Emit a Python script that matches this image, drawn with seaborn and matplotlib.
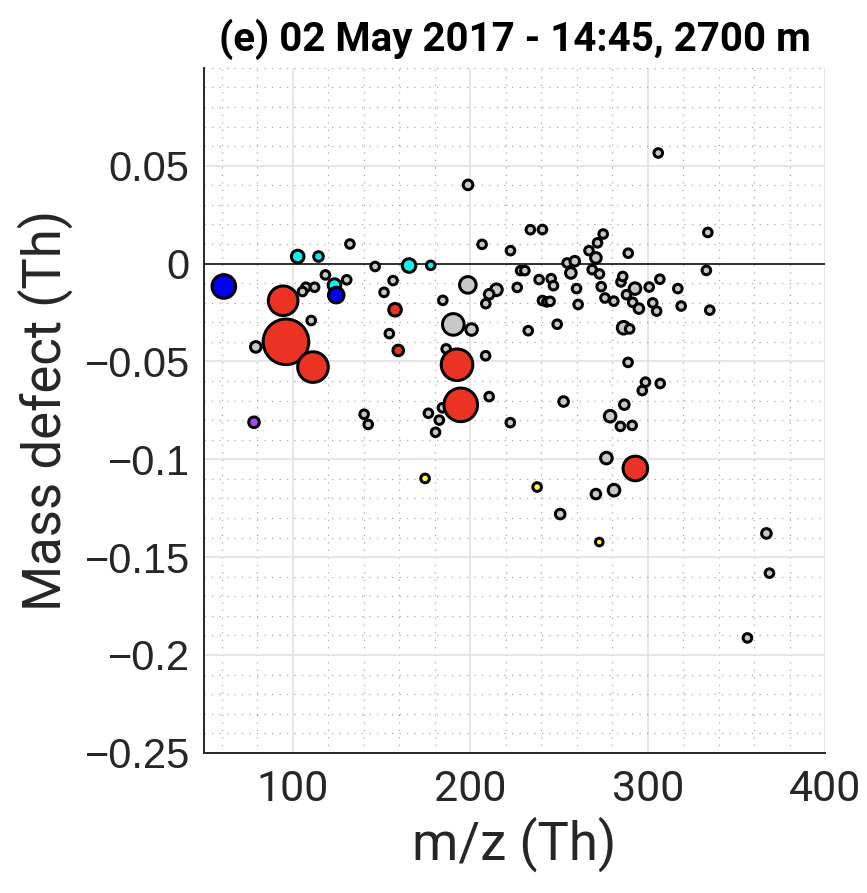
import numpy as np
import pandas as pd
import matplotlib
matplotlib.use("Agg")
import matplotlib.pyplot as plt
from matplotlib.ticker import MultipleLocator, FuncFormatter
import seaborn as sns

sns.set_style("white")
plt.rcParams["font.family"] = ["Roboto", "DejaVu Sans"]

# m/z (Th), mass defect (Th), apparent marker radius (px) and compound class
grey_mz = [198.8, 206.7, 222.7, 132.3, 118.5, 107.5, 112.4, 105.6, 130.5, 146.5,
           156.6, 151.5, 184.6, 198.7, 214.8, 210.7, 208.8, 226.5, 228.4, 230.8,
           305.9, 233.9, 240.7, 333.8, 274.9, 271.7, 266.9, 289.0, 270.8, 254.6,
           258.9, 256.7, 268.7, 272.8, 333.0, 238.8, 245.6, 246.9, 259.9, 273.8,
           284.9, 285.9, 292.8, 300.8, 306.8, 316.9, 288.0, 275.9, 280.9, 291.5,
           295.0, 302.8, 305.0, 318.8, 334.9, 240.7, 243.2, 245.0, 260.8, 110.5,
           79.3, 154.5, 190.5, 200.8, 186.5, 208.7, 210.7, 184.4, 176.5, 182.6,
           180.5, 140.3, 142.6, 222.6, 232.7, 249.0, 286.4, 289.8, 288.9, 298.7,
           307.0, 296.9, 252.6, 286.8, 278.8, 284.6, 291.2, 276.7, 270.8, 281.0,
           250.7, 366.8, 368.5, 356.1]
grey_md = [0.0402, 0.0098, 0.0066, 0.0100, -0.0058, -0.0121, -0.0121, -0.0143, -0.0083, -0.0015,
           -0.0087, -0.0147, -0.0188, -0.0109, -0.0134, -0.0157, -0.0205, -0.0122, -0.0036, -0.0036,
           0.0565, 0.0173, 0.0174, 0.0159, 0.0151, 0.0106, 0.0066, 0.0053, 0.0029, 0.0003,
           0.0012, -0.0048, -0.0031, -0.0053, -0.0035, -0.0082, -0.0077, -0.0113, -0.0128, -0.0118,
           -0.0094, -0.0066, -0.0128, -0.0120, -0.0080, -0.0128, -0.0159, -0.0176, -0.0192, -0.0198,
           -0.0230, -0.0201, -0.0243, -0.0217, -0.0238, -0.0189, -0.0196, -0.0193, -0.0209, -0.0291,
           -0.0426, -0.0358, -0.0311, -0.0337, -0.0436, -0.0471, -0.0680, -0.0737, -0.0765, -0.0800,
           -0.0862, -0.0770, -0.0822, -0.0813, -0.0343, -0.0310, -0.0328, -0.0334, -0.0505, -0.0606,
           -0.0613, -0.0649, -0.0705, -0.0721, -0.0780, -0.0832, -0.0827, -0.0994, -0.1178, -0.1158,
           -0.1280, -0.1379, -0.1582, -0.1913]
grey_r = [5.5, 5, 5, 5, 5, 5, 5, 5, 5, 5,
          5, 5, 5, 9, 6.5, 5.5, 5, 5, 5, 5,
          5, 5, 5, 5, 5, 5, 5, 5, 6, 5,
          5.5, 6, 5, 5, 5, 5, 5, 5, 5, 5,
          5, 5, 6.5, 5, 5, 5, 5, 5, 5, 5,
          5.5, 5, 5, 5, 5, 5, 5, 5, 5, 5,
          6, 5, 11.5, 6.5, 5, 5, 5, 5, 5, 5,
          5, 5, 5, 5, 5, 5, 7, 5, 5, 5,
          5, 5, 5.5, 5.5, 6.5, 5, 5, 6.5, 5.5, 6.5,
          5.5, 5.5, 5, 5]

yellow_mz = [174.6, 237.7, 272.7]
yellow_md = [-0.1098, -0.1142, -0.1423]
yellow_r = [5, 5, 4.5]

purple_mz = [78.3]
purple_md = [-0.0811]
purple_r = [6]

cyan_mz = [102.9, 114.6, 123.6, 165.6, 177.8]
cyan_md = [0.0036, 0.0036, -0.0110, -0.0010, -0.0009]
cyan_r = [7, 5.5, 7, 7.5, 5]

blue_mz = [61.3, 124.6]
blue_md = [-0.0117, -0.0161]
blue_r = [12.5, 8.5]

red_mz = [96.3, 194.7, 192.6, 111.5, 94.7, 293.0, 157.7, 159.5]
red_md = [-0.0400, -0.0722, -0.0517, -0.0529, -0.0190, -0.1047, -0.0236, -0.0444]
red_r = [23.5, 17.5, 16.5, 16, 15.5, 13, 7, 6]

colors = {"grey": "#c8c8c8", "yellow": "#ffff33", "purple": "#a64af0",
          "cyan": "#11f0f0", "blue": "#0000f5", "red": "#ea3323"}

frames = []
for name, mz, md, r in [("grey", grey_mz, grey_md, grey_r),
                        ("yellow", yellow_mz, yellow_md, yellow_r),
                        ("purple", purple_mz, purple_md, purple_r),
                        ("cyan", cyan_mz, cyan_md, cyan_r),
                        ("blue", blue_mz, blue_md, blue_r),
                        ("red", red_mz, red_md, red_r)]:
    frames.append(pd.DataFrame({"mz": mz, "md": md, "r": r, "group": name}))
df = pd.concat(frames, ignore_index=True)

# marker area from apparent radius (edge line drawn half outside the fill)
edge_px = 3.0
df["area"] = (df["r"] + 0.8 - edge_px / 2) ** 2
amax = df["area"].max()
smax = amax * (2 * 0.72) ** 2

fig = plt.figure(figsize=(8.67, 8.93), dpi=100)
ax = fig.add_axes([0.235, 0.157, 0.717, 0.767])

ax.xaxis.set_major_locator(MultipleLocator(100))
ax.xaxis.set_minor_locator(MultipleLocator(20))
ax.yaxis.set_major_locator(MultipleLocator(0.05))
ax.yaxis.set_minor_locator(MultipleLocator(0.01))
ax.grid(which="major", color="#e2e2e2", linewidth=1.2, linestyle="-")
ax.grid(which="minor", color="#a8a8a8", linewidth=0.9, linestyle=(0, (1, 5)))
ax.set_axisbelow(True)
ax.axhline(0, color="#222222", linewidth=1.3, zorder=1)

sns.scatterplot(data=df, x="mz", y="md", hue="group", palette=colors,
                size="area", sizes=(0, smax), size_norm=(0, amax),
                edgecolor="black", linewidth=edge_px * 0.72, alpha=1,
                legend=False, ax=ax, zorder=3)

ax.set_xlim(50, 400)
ax.set_ylim(-0.25, 0.1)

for s in ["top", "right"]:
    ax.spines[s].set_visible(False)
for s in ["left", "bottom"]:
    ax.spines[s].set_color("#262626")
    ax.spines[s].set_linewidth(1.4)

ax.tick_params(which="major", direction="in", length=8, width=1.2, colors="#262626")
ax.tick_params(which="minor", direction="in", length=4, width=0.8, colors="#262626")
ax.tick_params(axis="x", which="major", labelsize=31, pad=12)
ax.tick_params(axis="y", which="major", labelsize=30, pad=10)

ax.set_yticks([0.05, 0, -0.05, -0.1, -0.15, -0.2, -0.25])
ax.yaxis.set_major_formatter(FuncFormatter(lambda v, p: "0" if abs(v) < 1e-9 else ("%g" % round(v, 3)).replace("-", "\u2212")))
ax.set_xticks([100, 200, 300, 400])
for lab in ax.get_yticklabels():
    lab.set_fontfamily(["Liberation Sans", "DejaVu Sans"])

ax.set_xlabel("m/z (Th)", fontsize=38, color="#262626", labelpad=4)
ax.set_ylabel("Mass defect (Th)", fontsize=38, color="#262626", labelpad=8)
ax.set_title("(e) 02 May 2017 - 14:45, 2700 m", fontsize=29, fontweight="bold",
             color="black", pad=12)

fig.savefig("out.png", dpi=100)
